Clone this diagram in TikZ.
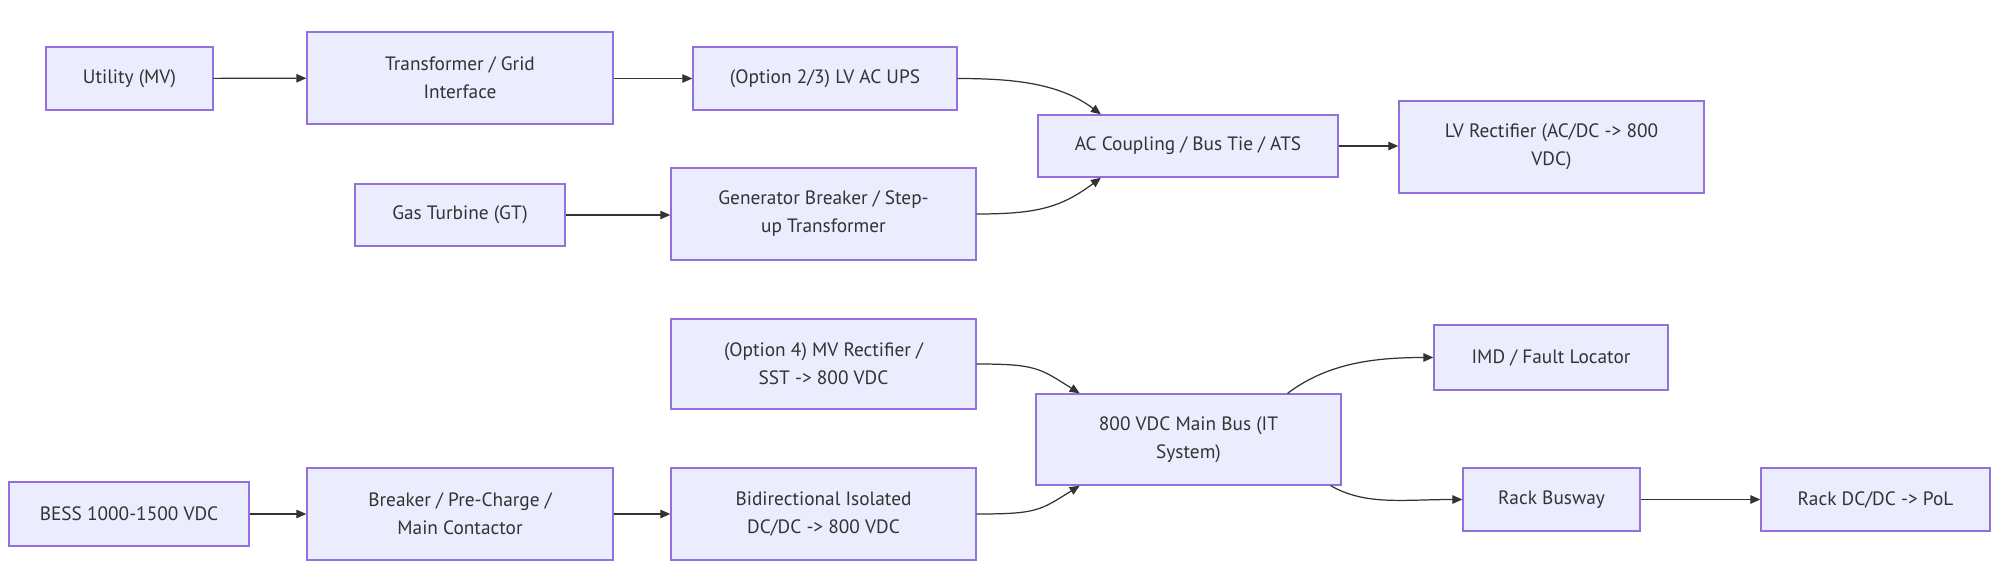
\documentclass[tikz,border=0pt]{standalone}
\usepackage{fontspec}
\setmainfont{PT Sans}
\usetikzlibrary{positioning, arrows.meta}

\definecolor{boxfill}{HTML}{ECECFF}
\definecolor{boxline}{HTML}{9370DB}
\definecolor{inkgray}{HTML}{333333}

\begin{document}
\begin{tikzpicture}[
				x=0.02cm, y=-0.02cm,
				box/.style={draw=boxline, fill=boxfill, line width=0.8pt, inner sep=0pt,
					text=inkgray, align=center, font=\fontsize{11}{15.9}\selectfont,
					minimum height=1.26cm},
				tall/.style={minimum height=1.84cm},
				edge/.style={draw=inkgray, line width=0.7pt,
					-{Triangle[length=0.2cm, width=0.17cm]}}]
				
				\useasboundingbox (0,0) rectangle (2000,585);
				
				% AC side
				\node[box, minimum width=3.34cm] (utility) at (129.5,78.5) {Utility (MV)};
				\node[box, tall, minimum width=6.12cm] (xfmr) at (460,78) {Transformer / Grid\\Interface};
				\node[box, minimum width=5.28cm] (ups) at (825,78.5) {(Option 2/3) LV AC UPS};
				\node[box, minimum width=4.20cm, minimum height=1.24cm] (gt) at (460,215) {Gas Turbine (GT)};
				\node[box, tall, minimum width=6.10cm] (genbrk) at (823.5,214) {Generator Breaker / Step-\\up Transformer};
				\node[box, minimum width=6.00cm, minimum height=1.24cm] (accpl) at (1188,146) {AC Coupling / Bus Tie / ATS};
				\node[box, tall, minimum width=6.10cm] (lvrect) at (1551.5,147) {LV Rectifier (AC/DC -> 800\\VDC)};
				
				% DC side
				\node[box, tall, minimum width=6.10cm, minimum height=1.80cm] (mvrect) at (823.5,364) {(Option 4) MV Rectifier /\\SST -> 800 VDC};
				\node[box, minimum width=4.80cm, minimum height=1.28cm] (bess) at (129,514) {BESS 1000-1500 VDC};
				\node[box, tall, minimum width=6.12cm] (brk) at (460,514) {Breaker / Pre-Charge /\\Main Contactor};
				\node[box, tall, minimum width=6.10cm] (bidir) at (823.5,514) {Bidirectional Isolated\\DC/DC -> 800 VDC};
				\node[box, minimum width=6.10cm, minimum height=1.82cm] (bus) at (1188.5,439.5) {800 VDC Main Bus (IT\\System)};
				\node[box, minimum width=4.68cm, minimum height=1.30cm] (imd) at (1551,357.5) {IMD / Fault Locator};
				\node[box, minimum width=3.54cm] (busway) at (1551.5,499.5) {Rack Busway};
				\node[box, minimum width=4.58cm] (rackdc) at (1875.5,499.5) {Rack DC/DC -> PoL};
				
				\draw[edge] (utility) -- (xfmr);
				\draw[edge] (xfmr.east |- ups.east) -- (ups);
				\draw[edge] (ups.east) .. controls +(60,0) and +(-40,-30) .. (accpl.160);
				\draw[edge] (gt) -- (genbrk.west |- gt.east);
				\draw[edge] (genbrk.east) .. controls +(60,0) and +(-40,30) .. (accpl.200);
				\draw[edge] (accpl) -- (lvrect.west |- accpl.east);
				
				\draw[edge] (bess) -- (brk);
				\draw[edge] (brk) -- (bidir);
				\draw[edge] (mvrect.east) .. controls +(60,0) and +(-40,-25) .. (bus.157);
				\draw[edge] (bidir.east) .. controls +(60,0) and +(-40,25) .. (bus.203);
				\draw[edge] (bus.25) .. controls +(40,-30) and +(-60,0) .. (imd.west);
				\draw[edge] (bus.342) .. controls +(35,20) and +(-60,0) .. (busway.west);
				\draw[edge] (busway) -- (rackdc);
			\end{tikzpicture}
\end{document}
